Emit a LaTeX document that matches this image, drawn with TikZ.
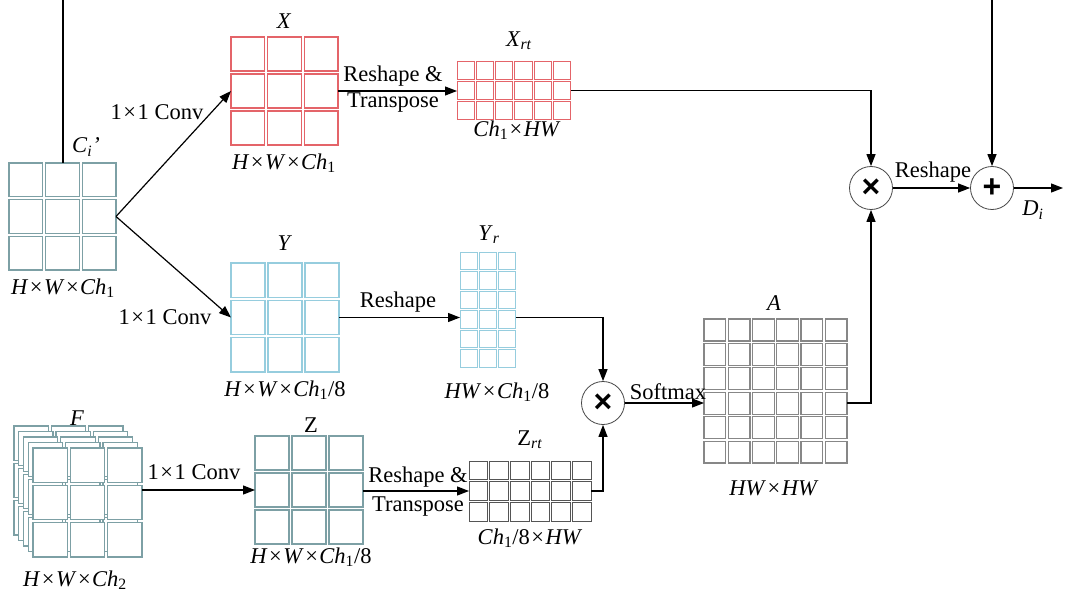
\documentclass[tikz,border=0pt]{standalone}
\usepackage{fontspec}
\setmainfont{Liberation Serif}
\newfontfamily\symfont{Liberation Sans}
\usetikzlibrary{arrows.meta}
\definecolor{tealg}{RGB}{125,160,165}
\definecolor{redc}{RGB}{228,100,105}
\definecolor{bluec}{RGB}{150,205,222}
\definecolor{darkc}{RGB}{85,85,85}
\definecolor{grayc}{RGB}{135,135,135}
\definecolor{circc}{RGB}{70,70,70}
\newcommand{\cellgrid}[8]{%
  \foreach \ii in {1,...,#3}{\foreach \jj in {1,...,#4}{%
    \draw[#7] ({#1+(\ii-1)*#5},{#2+(\jj-1)*#6}) rectangle ++({#5-#8},{#6-#8});}}}
\newcommand{\tm}{\kern1.5pt×\kern1.5pt}
\begin{document}
\begin{tikzpicture}[x=1pt,y=-1pt,
  gbox/.style={rectangle,inner sep=0,outer sep=0,draw=none},
  lbl/.style={font=\fontsize{22.5}{26}\selectfont,inner sep=0},
  arr/.style={-{Triangle[length=12pt,width=9pt]},line width=1.2pt},
  ln/.style={line width=1.2pt},
  opc/.style={circle,draw=circc,line width=0.8pt,minimum size=43pt,inner sep=0,font=\symfont\bfseries\fontsize{32}{32}\selectfont}]
\useasboundingbox (0,0) rectangle (1067,596);

% ---- grid nodes (frames) ----
\node[gbox,minimum width=107,minimum height=107] (Ci) at (62.5,216.5) {};
\node[gbox,minimum width=107,minimum height=108] (X) at (284.5,91) {};
\node[gbox,minimum width=108,minimum height=109] (Y) at (285,317.5) {};
\node[gbox,minimum width=108,minimum height=109] (Z) at (309,490.5) {};
\node[gbox,minimum width=109,minimum height=109] (F) at (87.5,502.5) {};
\node[gbox,minimum width=114,minimum height=57] (Xrt) at (514,90.5) {};
\node[gbox,minimum width=56,minimum height=115] (Yr) at (488,309.5) {};
\node[gbox,minimum width=122,minimum height=60] (Zrt) at (530,491) {};
\node[gbox,minimum width=143,minimum height=144] (A) at (775.5,391) {};

% ---- cells ----
\cellgrid{9}{163}{3}{3}{36.67}{36.67}{draw=tealg,line width=1.2pt}{3}
\cellgrid{231}{37}{3}{3}{36.67}{37}{draw=redc,line width=1.2pt}{3}
\cellgrid{231}{263}{3}{3}{37}{37.33}{draw=bluec,line width=1.2pt}{3}
\cellgrid{255}{436}{3}{3}{37}{37}{draw=tealg,line width=1.2pt}{3}
\foreach \k in {4,3,2,1}{%
  \cellgrid{33-4.75*\k}{448-5.5*\k}{3}{3}{37.33}{37.33}{draw=tealg,fill=white,line width=1.2pt}{3}}
\cellgrid{33}{448}{3}{3}{37.33}{37.33}{draw=tealg,fill=white,line width=1.2pt}{3}
\cellgrid{457}{62}{6}{3}{19.33}{19.67}{draw=redc,line width=1pt}{2}
\cellgrid{460}{252}{3}{6}{19.33}{19.5}{draw=bluec,line width=1pt}{2}
\cellgrid{469}{461}{6}{3}{20.67}{20.67}{draw=darkc,line width=1pt}{2}
\cellgrid{704}{319}{6}{6}{24.25}{24.42}{draw=grayc,line width=1.2pt}{2.5}

% ---- operators ----
\node[opc] (mulA) at (871,188) {×};
\node[opc] (plus) at (992,188) {+};
\node[opc] (mulB) at (603,403) {×};

% ---- free ends ----
\coordinate (ciTop) at (63,0);
\coordinate (plTop) at (992,0);
\coordinate (Dout) at (1063,188);

% ---- connectors ----
\draw[ln] (ciTop) -- (ciTop |- Ci.north);
\draw[arr] (Ci.east) -- (X.west);
\draw[arr] (Ci.east) -- (Y.west);
\draw[arr] (X.east) -- (X.east -| Xrt.west);
\draw[arr] (Xrt.east) -| (mulA.north);
\draw[arr] (mulA.east) -- (plus.west);
\draw[arr] (plTop) -- (plus.north);
\draw[arr] (plus.east) -- (Dout);
\draw[arr] (Y.east) -- (Y.east -| Yr.west);
\draw[arr] (Yr.east |- Y.east) -| (mulB.north);
\draw[arr] (F.east |- 0,490) -- (Z.west |- 0,490);
\draw[arr] (Z.east |- 0,491) -- (Zrt.west |- 0,491);
\draw[arr] (Zrt.east |- 0,491) -| (mulB.south);
\draw[arr] (mulB.east) -- (mulB.east -| A.west);
\draw[arr] (A.east |- mulB.east) -| (mulA.south);

% ---- labels ----
\node[lbl] (lCi) at (86,147) {\textit{C}\textsubscript{\textit{i}}\textit{'}};
\node[lbl] (lCid) at (63,288) {\textit{H}\tm\textit{W}\tm\textit{Ch}\textsubscript{1}};
\node[lbl] (lX) at (284,21) {\textit{X}};
\node[lbl] (lXd) at (284,163) {\textit{H}\tm\textit{W}\tm\textit{Ch}\textsubscript{1}};
\node[lbl] (lXrt) at (519,41) {\textit{X}\textsubscript{\textit{rt}}};
\node[lbl] (lXrtd) at (517,130) {\textit{Ch}\textsubscript{1}\tm\textit{HW}};
\node[lbl] (lY) at (285,243) {\textit{Y}};
\node[lbl] (lYd) at (285,390) {\textit{H}\tm\textit{W}\tm\textit{Ch}\textsubscript{1}/8};
\node[lbl] (lYr) at (489,235) {\textit{Y}\textsubscript{\textit{r}}};
\node[lbl] (lYrd) at (497,392) {\textit{HW}\tm\textit{Ch}\textsubscript{1}/8};
\node[lbl] (lF) at (77,418) {\textit{F}};
\node[lbl] (lFd) at (75,580) {\textit{H}\tm\textit{W}\tm\textit{Ch}\textsubscript{2}};
\node[lbl] (lZ) at (311,425) {Z};
\node[lbl] (lZd) at (311,557) {\textit{H}\tm\textit{W}\tm\textit{Ch}\textsubscript{1}/8};
\node[lbl] (lZrt) at (530,440) {Z\textsubscript{\textit{rt}}};
\node[lbl] (lZrtd) at (530,538) {\textit{Ch}\textsubscript{1}/8\tm\textit{HW}};
\node[lbl] (lA) at (774,303) {\textit{A}};
\node[lbl] (lAd) at (774,488) {\textit{HW}\tm\textit{HW}};
\node[lbl] (conv1) at (157,112) {1\tm1 Conv};
\node[lbl] (conv2) at (165,317) {1\tm1 Conv};
\node[lbl] (conv3) at (194,472) {1\tm1 Conv};
\node[lbl] (rt1a) at (393,76) {Reshape \&};
\node[lbl] (rt1b) at (393,103) {Transpose};
\node[lbl] (rs2) at (398,302) {Reshape};
\node[lbl] (rt3a) at (418,477) {Reshape \&};
\node[lbl] (rt3b) at (418,507) {Transpose};
\node[lbl] (smx) at (668,392) {Softmax};
\node[lbl] (rs4) at (933,172) {Reshape};
\node[lbl] (lD) at (1033,210) {\textit{D}\textsubscript{\textit{i}}};
\end{tikzpicture}
\end{document}
